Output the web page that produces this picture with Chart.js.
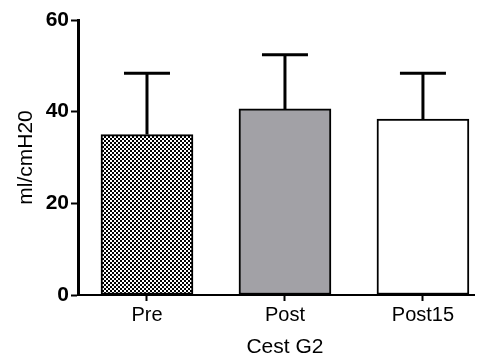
<!DOCTYPE html>
<html>
<head>
<meta charset="utf-8">
<script src="https://cdn.jsdelivr.net/npm/chart.js@4/dist/chart.umd.min.js"></script>
<style>
  html, body { margin: 0; padding: 0; background: #fff; }
  #wrap { width: 483px; height: 362px; }
</style>
</head>
<body>
<div id="wrap"><canvas id="c" width="483" height="362"></canvas></div>
<script>
// Group labels, means and upper SD for each condition
const categories = ['Pre', 'Post', 'Post15'];
const means = [35.0, 40.6, 38.4];
const sdUpper = [13.4, 11.8, 10.0];
const yTicks = [0, 20, 40, 60];
const xTitle = 'Cest G2';

// Black/white checkerboard fill for the first bar
function checkerPattern() {
  const p = document.createElement('canvas');
  p.width = 4; p.height = 4;
  const g = p.getContext('2d');
  g.fillStyle = '#fff'; g.fillRect(0, 0, 4, 4);
  g.fillStyle = '#000';
  g.fillRect(0, 0, 2, 2);
  g.fillRect(2, 2, 2, 2);
  return document.getElementById('c').getContext('2d').createPattern(p, 'repeat');
}

const fills = [checkerPattern(), '#a2a1a6', '#ffffff'];
const FONT = "'Liberation Sans', Arial, sans-serif";

// Upper error bars (whisker + cap) drawn from the SD values
const errorBars = {
  id: 'errorBars',
  afterDatasetsDraw(chart) {
    const { ctx, scales: { x, y } } = chart;
    const meta = chart.getDatasetMeta(0);
    ctx.save();
    ctx.strokeStyle = '#000';
    ctx.lineWidth = 3;
    means.forEach((m, i) => {
      const bar = meta.data[i];
      const cx = x.getPixelForValue(i);
      const top = y.getPixelForValue(m + sdUpper[i]);
      const base = y.getPixelForValue(m);
      const half = bar.width / 4;
      ctx.beginPath();
      ctx.moveTo(cx, base);
      ctx.lineTo(cx, top);
      ctx.moveTo(cx - half, top);
      ctx.lineTo(cx + half, top);
      ctx.stroke();
    });
    ctx.restore();
  }
};

// X-axis title centred under the middle group
const groupTitle = {
  id: 'groupTitle',
  afterDraw(chart) {
    const { ctx, scales: { x } } = chart;
    ctx.save();
    ctx.fillStyle = '#000';
    ctx.font = `21px ${FONT}`;
    ctx.textAlign = 'center';
    ctx.textBaseline = 'middle';
    ctx.fillText(xTitle, x.getPixelForValue(1), 347);
    ctx.restore();
  }
};

new Chart(document.getElementById('c'), {
  type: 'bar',
  data: {
    datasets: [{
      data: means.map((v, i) => ({ x: i, y: v })),
      backgroundColor: fills,
      borderColor: '#000',
      borderWidth: 2,
      borderSkipped: false,
      barThickness: 92
    }]
  },
  options: {
    responsive: false,
    animation: false,
    devicePixelRatio: 1,
    layout: { padding: { top: 20, right: 9, left: 0, bottom: 0 } },
    plugins: { legend: { display: false }, tooltip: { enabled: false } },
    scales: {
      x: {
        type: 'linear',
        offset: false,
        min: -0.5,
        max: 2.37,
        afterBuildTicks(s) { s.ticks = categories.map((_, i) => ({ value: i })); },
        afterFit(s) { s.height = 67; },
        grid: { drawOnChartArea: false, tickLength: 6, tickWidth: 2, tickColor: '#000', offset: false },
        border: { color: '#000', width: 2 },
        ticks: {
          color: '#000',
          font: { family: FONT, size: 20 },
          padding: 2,
          maxRotation: 0,
          autoSkip: false,
          callback: (v) => categories[v] ?? ''
        }
      },
      y: {
        min: 0,
        max: 60,
        afterBuildTicks(s) { s.ticks = yTicks.map(v => ({ value: v })); },
        afterFit(s) { s.width = 78; },
        grid: { drawOnChartArea: false, tickLength: 7, tickWidth: 2, tickColor: '#000' },
        border: { color: '#000', width: 3 },
        ticks: {
          color: '#000',
          font: { family: FONT, size: 21, weight: 'bold' },
          padding: 2
        },
        title: {
          display: true,
          text: 'ml/cmH20',
          color: '#000',
          font: { family: FONT, size: 21 },
          padding: { top: 14, bottom: 0 }
        }
      }
    }
  },
  plugins: [errorBars, groupTitle]
});
</script>
</body>
</html>
